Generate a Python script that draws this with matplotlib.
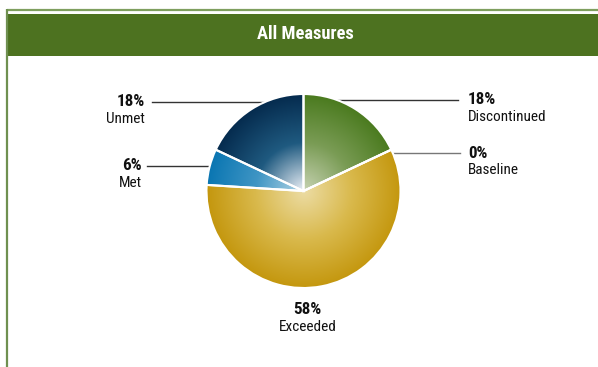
import numpy as np
import matplotlib
matplotlib.use('Agg')
import matplotlib.pyplot as plt
from matplotlib import font_manager
from matplotlib.colors import to_rgb

# data
categories = ['Discontinued', 'Baseline', 'Exceeded', 'Met', 'Unmet']
shares = [18, 0, 58, 6, 18]
pct_labels = ['18%', '0%', '58%', '6%', '18%']
inner_colors = ['#c7d3b3', '#c7d3b3', '#ecdca4', '#b4d6e6', '#eef2f8']
mid_colors = ['#7a9c55', '#7a9c55', '#d9b94c', '#3f95c4', '#1f5a80']
outer_colors = ['#4a7a1e', '#4a7a1e', '#c4970e', '#0a76b2', '#052b4e']

# pick a narrow font if one is there
installed = {f.name for f in font_manager.fontManager.ttflist}
family = 'DejaVu Sans'
for name in ['Liberation Sans Narrow', 'Roboto Condensed', 'Open Sans Condensed',
             'Liberation Sans', 'Roboto']:
    if name in installed:
        family = name
        break
font = [family, 'DejaVu Sans']

W, H = 598, 367
fig = plt.figure(figsize=(W / 100, H / 100), dpi=100)
ax = fig.add_axes([0, 0, 1, 1])
ax.set_xlim(0, W)
ax.set_ylim(0, H)
ax.set_aspect('equal')
ax.axis('off')

# frame and header band
ax.plot([7, W], [H - 9.5, H - 9.5], color='#7f9f5f', lw=1.6, solid_capstyle='butt')
ax.plot([7, 7], [0, H - 9], color='#6f9050', lw=1.6, solid_capstyle='butt')
ax.add_patch(plt.Rectangle((7, H - 56), W - 7, 42, color='#4d7220', lw=0))
ax.text(305, H - 34, 'All Measures', color='white', fontsize=13.3, fontweight='bold',
        ha='center', va='center', family=font)

# pie
cx, cy, R = 303.5, H - 191, 97
wedges, _ = ax.pie(shares, startangle=90, counterclock=False, center=(cx, cy), radius=R,
                   colors=['none'] * len(shares),
                   wedgeprops=dict(edgecolor='white', linewidth=1.5, zorder=3))
ax.set_xlim(0, W)
ax.set_ylim(0, H)

# radial gradient fill for each wedge (three stops)
n = 400
xs = np.linspace(cx - R, cx + R, n)
ys = np.linspace(cy - R, cy + R, n)
X, Y = np.meshgrid(xs, ys)
t = np.clip(np.hypot(X - cx, Y - cy) / R, 0, 1)
for w, c_in, c_mid, c_out, v in zip(wedges, inner_colors, mid_colors, outer_colors, shares):
    if v == 0:
        continue
    a, m, b = (np.array(to_rgb(c)) for c in (c_in, c_mid, c_out))
    s1 = np.clip(t / 0.5, 0, 1)[..., None]
    s2 = np.clip((t - 0.5) / 0.5, 0, 1)[..., None]
    img = np.where(t[..., None] < 0.5, a * (1 - s1) + m * s1, m * (1 - s2) + b * s2)
    im = ax.imshow(img, extent=(cx - R, cx + R, cy - R, cy + R), origin='lower',
                   zorder=2, interpolation='bilinear')
    im.set_clip_path(w)

# leader lines and labels
def edge_x(y, side):
    dy = y - cy
    return cx + side * np.sqrt(max(R ** 2 - dy ** 2, 0))

label_pos = {
    'Unmet': (145, 102, 152, 'right', -1, '#333333'),
    'Met': (142, 166, 147, 'right', -1, '#333333'),
    'Discontinued': (468, 100, 458, 'left', 1, '#333333'),
    'Baseline': (468, 153, 460, 'left', 1, '#777777'),
}
for cat, pct in zip(categories, pct_labels):
    if cat == 'Exceeded':
        ax.text(307, H - 310, pct, ha='center', va='center', fontsize=12.3,
                fontweight='bold', family=font, color='#111111')
        ax.text(308, H - 327, cat, ha='center', va='center', fontsize=11,
                family=font, color='#111111')
        continue
    tx, ty, lx, ha, side, lc = label_pos[cat]
    yy = H - ty
    ax.plot([lx, edge_x(yy, side)], [yy, yy], color=lc, lw=1.0, zorder=1)
    ax.text(tx, yy, pct, ha=ha, va='center', fontsize=12.3, fontweight='bold',
            family=font, color='#111111')
    ax.text(tx, yy - 17, cat, ha=ha, va='center', fontsize=11,
            family=font, color='#111111')

fig.savefig('out.png', dpi=100)
